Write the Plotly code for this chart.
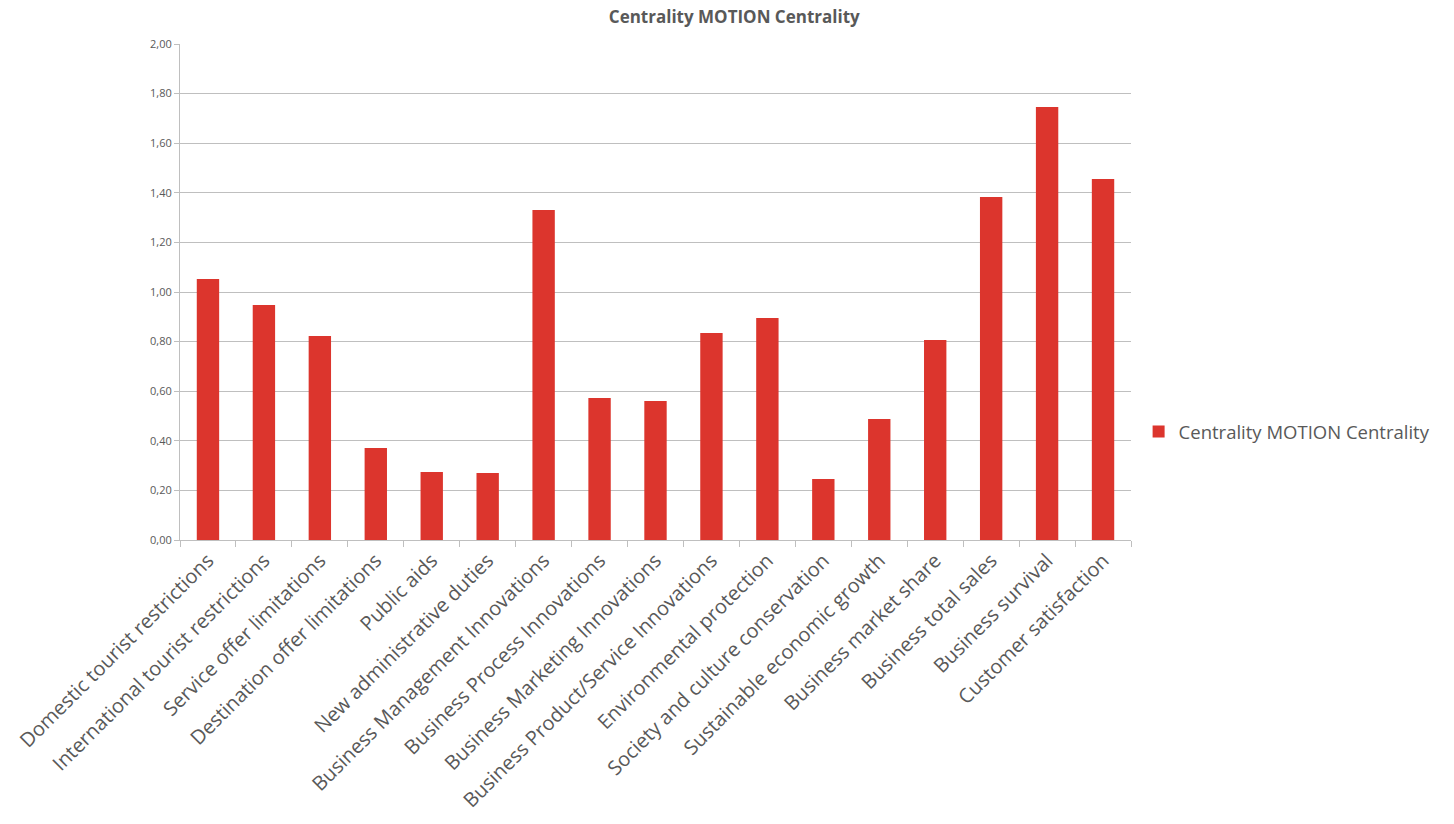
import plotly.graph_objects as go

categories = [
    "Domestic tourist restrictions",
    "International tourist restrictions",
    "Service offer limitations",
    "Destination offer limitations",
    "Public aids",
    "New administrative duties",
    "Business Management Innovations",
    "Business Process Innovations",
    "Business Marketing Innovations",
    "Business Product/Service Innovations",
    "Environmental protection",
    "Society and culture conservation",
    "Sustainable economic growth",
    "Business market share",
    "Business total sales",
    "Business survival",
    "Customer satisfaction",
]
values = [1.052, 0.948, 0.823, 0.371, 0.274, 0.270, 1.331, 0.573, 0.560,
          0.835, 0.895, 0.246, 0.488, 0.806, 1.383, 1.746, 1.456]
series_name = "Centrality MOTION Centrality"
ytick_vals = [0, 0.2, 0.4, 0.6, 0.8, 1.0, 1.2, 1.4, 1.6, 1.8, 2.0]
ytick_text = ["0,00", "0,20", "0,40", "0,60", "0,80", "1,00", "1,20", "1,40", "1,60", "1,80", "2,00"]

fig = go.Figure()
fig.add_trace(go.Bar(
    x=categories, y=values, name=series_name,
    marker=dict(color="#DC352D", line=dict(width=0)),
    showlegend=True,
))

fig.update_layout(
    width=1454, height=824,
    margin=dict(l=180, r=323, t=44, b=284),
    paper_bgcolor="white", plot_bgcolor="white",
    font=dict(family="Open Sans, Liberation Sans, sans-serif", color="#595959"),
    bargap=0.6,
    title=dict(text="<b>Centrality MOTION Centrality</b>", x=0.505, xref="container",
               y=0.979, yref="container", xanchor="center", yanchor="middle",
               font=dict(size=17, color="#595959")),
    legend=dict(x=1.008, y=0.218, xanchor="left", yanchor="middle",
                font=dict(size=18.5, color="#595959"), itemsizing="constant"),
    xaxis=dict(
        tickangle=-45, tickfont=dict(size=20, color="#595959"),
        showline=True, linecolor="#BFBFBF", linewidth=1,
        ticks="outside", tickson="boundaries", ticklen=6, tickcolor="#BFBFBF",
        showgrid=False,
    ),
    yaxis=dict(
        range=[0, 2.0], tickvals=ytick_vals, ticktext=ytick_text,
        tickfont=dict(size=11, color="#595959"),
        showgrid=True, gridcolor="#BFBFBF", gridwidth=1,
        showline=True, linecolor="#BFBFBF", linewidth=1,
        ticks="outside", ticklen=5, tickcolor="#BFBFBF",
        zeroline=False,
    ),
)

fig.write_html("out.html")
